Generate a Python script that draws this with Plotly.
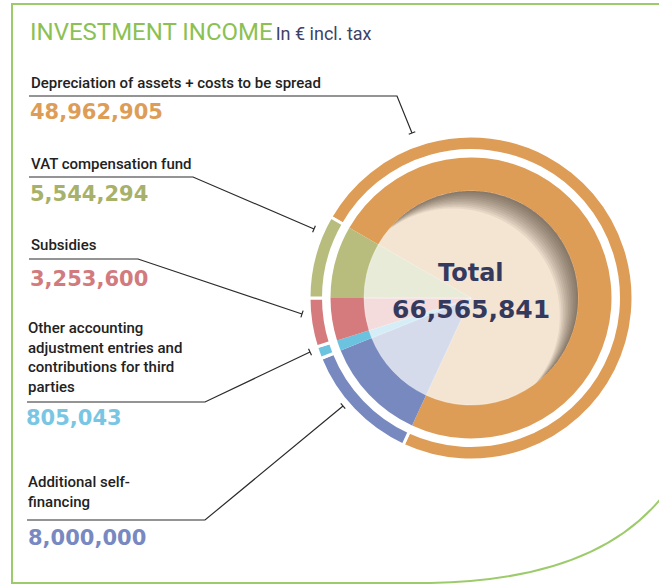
import numpy as np
import plotly.graph_objects as go

W, H = 659, 585

# data (order = clockwise from the top-left of the ring)
labels = [
    "Depreciation of assets + costs to be spread",
    "Additional self-financing",
    "Other accounting adjustment entries and contributions for third parties",
    "Subsidies",
    "VAT compensation fund",
]
values = [48962905, 8000000, 805043, 3253600, 5544294]
total_text = "66,565,841"

ring_colors = ["#de9d57", "#7889bf", "#6cc3e0", "#d57b7e", "#b8bd7e"]
light_colors = ["#f4e4d2", "#d5dbeb", "#d4edf6", "#f3dcdb", "#e9ebd9"]

CX, CY = 471, 298


def px(x, y):
    return x / W, 1 - y / H


def dom(r):
    return {"x": [(CX - r) / W, (CX + r) / W], "y": [1 - (CY + r) / H, 1 - (CY - r) / H]}


def pie(r, hole, colors, line_w, line_c="white"):
    return go.Pie(
        values=values, labels=labels, sort=False, direction="clockwise",
        rotation=-60, hole=hole, domain=dom(r), textinfo="none",
        hoverinfo="skip", showlegend=False,
        marker={"colors": colors, "line": {"color": line_c, "width": line_w}},
    )


fig = go.Figure()
fig.add_trace(pie(162, 147.5 / 162, ring_colors, 3))
fig.add_trace(pie(140.5, 0, ring_colors, 0))
fig.add_trace(pie(107, 0, light_colors, 0.6, "rgba(255,255,255,0.6)"))

shapes = []

# inset shadow on the inner circle (top-right)
R = 107
th = np.linspace(0, 2 * np.pi, 721)
for k in range(1, 12):
    d = 2.3 * k
    ox, oy = CX - d * 0.72, CY + d * 0.69
    outer = [(CX + R * np.cos(t), CY - R * np.sin(t)) for t in th]
    outer = [p for p in outer if np.hypot(p[0] - ox, p[1] - oy) > R]
    inner = [(ox + R * np.cos(t), oy - R * np.sin(t)) for t in th]
    inner = [p for p in inner if np.hypot(p[0] - CX, p[1] - CY) <= R]
    ang = lambda p: np.arctan2(-(p[1] - CY), p[0] - CX) - np.pi / 4
    wrap = lambda a: (a + np.pi) % (2 * np.pi) - np.pi
    outer.sort(key=lambda p: wrap(ang(p)))
    inner.sort(key=lambda p: -wrap(ang(p)))
    pts = outer + inner
    path = "M " + " L ".join("%.5f,%.5f" % px(*p) for p in pts) + " Z"
    shapes.append(dict(type="path", xref="paper", yref="paper", path=path,
                       fillcolor="rgba(60,48,35,0.07)", line_width=0, layer="above"))

# leader lines
leaders = [
    [(29, 96), (397, 96), (412, 133)],
    [(29, 177), (193, 177), (314, 229)],
    [(29, 259), (138, 259), (302, 314)],
    [(27, 402), (205, 402), (310, 352)],
    [(27, 520), (205, 520), (343, 406)],
]
for pts in leaders:
    path = "M " + " L ".join("%.5f,%.5f" % px(*p) for p in pts)
    shapes.append(dict(type="path", xref="paper", yref="paper", path=path,
                       line={"color": "#2b2b2b", "width": 1.2}))
    (x0, y0), (x1, y1) = pts[-2], pts[-1]
    L = np.hypot(x1 - x0, y1 - y0)
    nx, ny = -(y1 - y0) / L * 3.5, (x1 - x0) / L * 3.5
    a, b = px(x1 - nx, y1 - ny), px(x1 + nx, y1 + ny)
    shapes.append(dict(type="line", xref="paper", yref="paper", x0=a[0], y0=a[1],
                       x1=b[0], y1=b[1], line={"color": "#2b2b2b", "width": 1.2}))

# green frame
frame = [("M", (659, 4)), ("L", (12, 4)), ("L", (12, 583)), ("L", (430, 583))]
fpath = " ".join("%s %.5f,%.5f" % (c, *px(*p)) for c, p in frame)
q1, q2 = px(620, 580), px(680, 470)
fpath += " Q %.5f,%.5f %.5f,%.5f" % (q1[0], q1[1], q2[0], q2[1])
shapes.append(dict(type="path", xref="paper", yref="paper", path=fpath,
                   line={"color": "#9dcb6b", "width": 2}))

LABEL_FONT = "Roboto, Liberation Sans, sans-serif"
NUM_FONT = "DejaVu Sans, Verdana, sans-serif"

texts = [
    ("Depreciation of assets + costs to be spread", 29, 83, "#222222", LABEL_FONT, 15),
    ("48,962,905", 28, 112, "#de9d57", NUM_FONT, 21),
    ("VAT compensation fund", 29, 164, "#222222", LABEL_FONT, 15),
    ("5,544,294", 28, 194, "#a8b169", NUM_FONT, 21),
    ("Subsidies", 29, 245, "#222222", LABEL_FONT, 15),
    ("3,253,600", 28, 279, "#d27b7e", NUM_FONT, 21),
    ("Other accounting<br>adjustment entries and<br>contributions for third<br>parties",
     26, 357, "#222222", LABEL_FONT, 15),
    ("805,043", 24, 418, "#79c6e4", NUM_FONT, 21),
    ("Additional self-<br>financing", 26, 492, "#222222", LABEL_FONT, 15),
    ("8,000,000", 26, 538, "#7889c2", NUM_FONT, 21),
]
annotations = []
for t, x, y, c, f, s in texts:
    ax, ay = px(x, y)
    annotations.append(dict(text=t, x=ax, y=ay, xref="paper", yref="paper",
                            xanchor="left", yanchor="middle", align="left",
                            showarrow=False, font={"family": f, "size": s, "color": c,
                                                   "weight": "bold" if f == NUM_FONT else 500}))

tx, ty = px(28, 32)
annotations.append(dict(
    text="<span style='font-size:24px;color:#8cc152'>INVESTMENT INCOME</span> "
         "<span style='font-size:18px;color:#3d4268'>In € incl. tax</span>",
    x=tx, y=ty, xref="paper", yref="paper", xanchor="left", yanchor="middle",
    showarrow=False, font={"family": LABEL_FONT}))

for t, y, s in [("Total", 273, 24), (total_text, 309, 25)]:
    ax, ay = px(471, y)
    annotations.append(dict(text=t, x=ax, y=ay, xref="paper", yref="paper",
                            xanchor="center", yanchor="middle", showarrow=False,
                            font={"family": NUM_FONT, "size": s, "color": "#343a5e",
                                  "weight": "bold"}))

fig.update_layout(
    width=W, height=H, margin={"l": 0, "r": 0, "t": 0, "b": 0},
    paper_bgcolor="white", plot_bgcolor="white",
    shapes=shapes, annotations=annotations,
)
fig.write_html("out.html", config={"displayModeBar": False},
               post_script="document.body.style.margin='0';")
